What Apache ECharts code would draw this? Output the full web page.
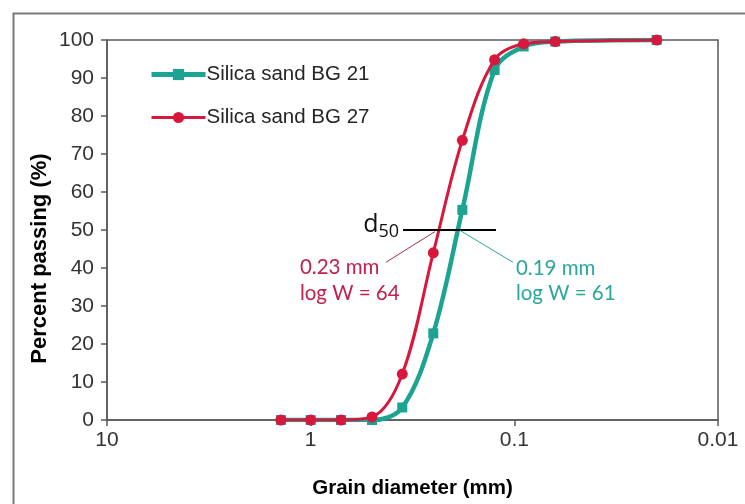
<!DOCTYPE html>
<html>
<head>
<meta charset="utf-8">
<script src="https://cdn.jsdelivr.net/npm/echarts@6/dist/echarts.min.js"></script>
<style>html,body{margin:0;padding:0;background:#fff;}#c{width:745px;height:504px;}</style>
</head>
<body>
<div id="c"></div>
<script>
const diameters = [1.4, 1.0, 0.71, 0.5, 0.355, 0.25, 0.18, 0.125, 0.09, 0.063, 0.02];
const bg21 = [0, 0, 0, 0, 3.3, 22.8, 55.3, 92.1, 98.3, 99.6, 100];
const bg27 = [0, 0, 0, 0.8, 12.1, 44.0, 73.6, 94.8, 99.0, 99.6, 100];
const seriesNames = ['Silica sand BG 21', 'Silica sand BG 27'];
const xTicks = [10, 1, 0.1, 0.01];
const d50Line = [[0.352, 50], [0.123, 50]];
const redCallout = [[0.245, 49.6], [0.427, 41.5]];
const tealCallout = [[0.185, 49.9], [0.1016, 41.5]];
const redText = ['0.23 mm', 'log W = 64'];
const tealText = ['0.19 mm', 'log W = 61'];
const yTitle = 'Percent passing (%)';
const xTitle = 'Grain diameter (mm)';

const TEAL = '#1ca391';
const RED = '#d8173d';
const RED_TXT = '#c0224a';
const TEAL_TXT = '#2aa79a';
const AX = 'Arial, "Liberation Sans", sans-serif';

const chart = echarts.init(document.getElementById('c'), null, {renderer: 'canvas'});
const pair = (xs, ys) => xs.map((x, i) => [x, ys[i]]);

const option = {
  animation: false,
  backgroundColor: '#fff',
  grid: {left: 107, right: 27, top: 40, bottom: 83, show: true, borderColor: '#595959', borderWidth: 1.5},
  legend: {
    show: true, orient: 'vertical', left: 144, top: 59, itemWidth: 54, itemHeight: 14, itemGap: 22,
    textStyle: {fontFamily: AX, fontSize: 20.5, color: '#262626', padding: [0,0,0,-4]},
    data: [
      {name: seriesNames[0], lineStyle: {width: 5, color: TEAL}},
      {name: seriesNames[1], lineStyle: {width: 3, color: RED}}
    ]
  },
  xAxis: {
    type: 'log', logBase: 10, min: 0.01, max: 10, inverse: true,
    name: xTitle, nameLocation: 'middle', nameGap: 58,
    nameTextStyle: {fontFamily: AX, fontSize: 20.5, fontWeight: 'bold', color: '#000'},
    axisLine: {lineStyle: {color: '#595959', width: 1.5}},
    axisTick: {show: true, length: 6, inside: false, lineStyle: {color: '#595959', width: 1.5}},
    minorTick: {show: false},
    splitLine: {show: false},
    axisLabel: {fontFamily: AX, fontSize: 21, color: '#333', margin: 10,
      formatter: v => { for (const t of xTicks) { if (Math.abs(v - t) / t < 1e-6) return String(t); } return ''; }}
  },
  yAxis: {
    type: 'value', min: 0, max: 100, interval: 10,
    axisLine: {show: true, lineStyle: {color: '#595959', width: 1.5}},
    axisTick: {show: true, length: 6, inside: false, lineStyle: {color: '#595959', width: 1.5}},
    splitLine: {show: false},
    axisLabel: {fontFamily: AX, fontSize: 21, color: '#333', margin: 13}
  },
  series: [
    {
      name: seriesNames[0], type: 'line', data: pair(diameters, bg21), smooth: 0.35,
      symbol: 'rect', symbolSize: 10, color: TEAL,
      lineStyle: {width: 4.5, color: TEAL}, itemStyle: {color: TEAL}, z: 2
    },
    {
      name: seriesNames[1], type: 'line', data: pair(diameters, bg27), smooth: 0.35,
      symbol: 'circle', symbolSize: 11, color: RED,
      lineStyle: {width: 3, color: RED}, itemStyle: {color: RED}, z: 3,
      markLine: {
        silent: true, symbol: ['none', 'none'], label: {show: false},
        data: [
          [{coord: d50Line[0], lineStyle: {color: '#000', width: 2, type: 'solid'}}, {coord: d50Line[1]}],
          [{coord: redCallout[0], lineStyle: {color: '#a0304f', width: 1, type: 'solid'}}, {coord: redCallout[1]}],
          [{coord: tealCallout[0], lineStyle: {color: TEAL_TXT, width: 1, type: 'solid'}}, {coord: tealCallout[1]}]
        ]
      }
    }
  ]
};
chart.setOption(option);

const pR = chart.convertToPixel({gridIndex: 0}, redCallout[1]);
const pT = chart.convertToPixel({gridIndex: 0}, tealCallout[1]);
const pD = chart.convertToPixel({gridIndex: 0}, d50Line[0]);
const pY = chart.convertToPixel({gridIndex: 0}, [10, 42.5]);
const font = '20.5px Lato, "Open Sans", sans-serif';
chart.setOption({
  graphic: [
    {type: 'rect', left: 11, top: 11, shape: {x: 0, y: 0, width: 760, height: 520}, style: {fill: 'none', stroke: '#7a7a7a', lineWidth: 2}, silent: true, z: -10},
    {type: 'text', x: 40, y: pY[1], rotation: Math.PI / 2, style: {text: yTitle, font: 'bold 22px ' + AX, fill: '#000', align: 'center', verticalAlign: 'middle'}},
    {type: 'text', x: pR[0] - 86, y: pR[1] - 5, style: {text: redText[0], font: font, fill: RED_TXT, align: 'left', verticalAlign: 'top'}},
    {type: 'text', x: pR[0] - 86, y: pR[1] + 21, style: {text: redText[1], font: font, fill: RED_TXT, align: 'left', verticalAlign: 'top'}},
    {type: 'text', x: pT[0] + 3, y: pT[1] - 4, style: {text: tealText[0], font: font, fill: TEAL_TXT, align: 'left', verticalAlign: 'top'}},
    {type: 'text', x: pT[0] + 3, y: pT[1] + 21, style: {text: tealText[1], font: font, fill: TEAL_TXT, align: 'left', verticalAlign: 'top'}},
    {type: 'text', x: pD[0] - 4, y: pD[1] + 11, style: {
      text: '{d|d}{s|50}', align: 'right', verticalAlign: 'bottom',
      rich: {d: {font: '25px "Open Sans", Lato, sans-serif', fill: '#111', verticalAlign: 'bottom', padding: [0,0,4,0]}, s: {font: '18px "Open Sans", Lato, sans-serif', fill: '#111', verticalAlign: 'bottom'}}
    }}
  ]
});
</script>
</body>
</html>
